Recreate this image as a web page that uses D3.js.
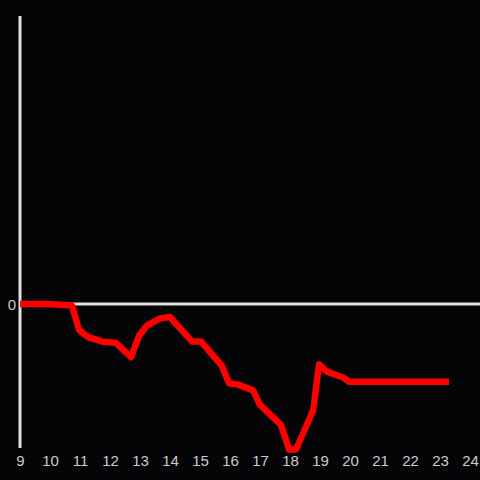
<!DOCTYPE html>
<html><head><meta charset="utf-8">
<script src="https://cdn.jsdelivr.net/npm/d3@7"></script>
<style>html,body{margin:0;padding:0;background:#050407;}svg{display:block;}</style>
</head><body>
<script>
const hours = [9.0, 9.9, 10.73, 10.97, 11.27, 11.73, 12.2, 12.7, 12.97, 13.23, 13.67, 14.0, 14.73, 15.03, 15.73, 15.97, 16.27, 16.77, 17.0, 17.7, 17.97, 18.2, 18.77, 18.97, 19.23, 19.77, 19.97, 23.3];
const values = [0, 0, -0.01, -0.18, -0.23, -0.26, -0.27, -0.37, -0.22, -0.15, -0.10, -0.09, -0.26, -0.26, -0.43, -0.55, -0.56, -0.60, -0.70, -0.84, -1.01, -1.01, -0.74, -0.42, -0.47, -0.51, -0.54, -0.54];
const xTicks = [9,10,11,12,13,14,15,16,17,18,19,20,21,22,23,24];
const yTicks = [0];

const W = 480, H = 480;
const svg = d3.select("body").append("svg").attr("width", W).attr("height", H)
  .style("background", "#050407");
svg.append("rect").attr("width", W).attr("height", H).attr("fill", "#050407");

const x = d3.scaleLinear().domain([9, 24]).range([20, 470]);
const y = d3.scaleLinear().domain([-1, 2]).range([448, 16]);

// zero line
svg.append("line").attr("x1", x(9)).attr("x2", 480).attr("y1", y(0)).attr("y2", y(0))
  .attr("stroke", "#e0e0e0").attr("stroke-width", 3);
// y axis line
svg.append("line").attr("x1", x(9)).attr("x2", x(9)).attr("y1", y(2)).attr("y2", y(-1))
  .attr("stroke", "#e0e0e0").attr("stroke-width", 3);

const font = "'Liberation Sans', Arial, sans-serif";
// x tick labels
const xAxis = d3.axisBottom(x).tickValues(xTicks).tickSize(0).tickPadding(0).tickFormat(d3.format("d"));
const gx = svg.append("g").attr("transform", "translate(0,0)").call(xAxis);
gx.select(".domain").remove();
gx.selectAll("text").attr("y", 466).attr("dy", null).attr("fill", "#cccccc")
  .style("font-family", font).style("font-size", "15px");

// y tick labels
const yAxis = d3.axisLeft(y).tickValues(yTicks).tickSize(0).tickPadding(0).tickFormat(d3.format("d"));
const gy = svg.append("g").attr("transform", "translate(16,0)").call(yAxis);
gy.select(".domain").remove();
gy.selectAll("text").attr("dy", "0.36em").attr("fill", "#cccccc")
  .style("font-family", font).style("font-size", "15px");

// line
const line = d3.line().x((d, i) => x(hours[i])).y((d, i) => y(values[i]));
svg.append("path").datum(values).attr("d", line).attr("fill", "none")
  .attr("stroke", "#ff0000").attr("stroke-width", 6.5).attr("stroke-linejoin", "round");
</script>
</body></html>
